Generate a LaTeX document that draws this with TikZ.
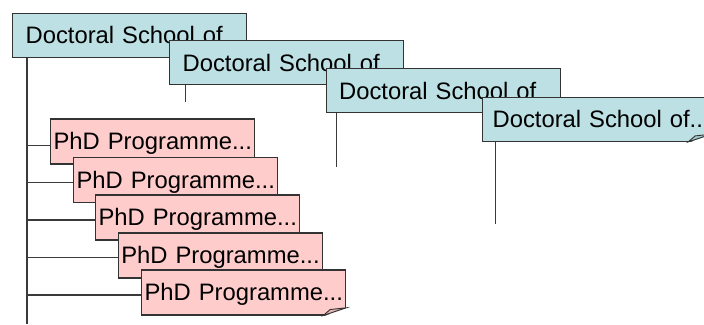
\documentclass[tikz,border=0pt]{standalone}
\usepackage{fontspec}
\setmainfont{Liberation Sans}
\usetikzlibrary{calc}
\definecolor{dscol}{HTML}{BCE0E3}
\definecolor{phcol}{HTML}{FFCCCC}
\definecolor{phdark}{HTML}{E6B3B3}
\definecolor{dsdark}{HTML}{A3C9CC}
\definecolor{bordercol}{HTML}{333333}
\definecolor{linecol}{HTML}{3A3A3A}
\begin{document}
\begin{tikzpicture}[x=1pt,y=-1pt,
  every node/.style={font=\fontsize{23.8}{28}\selectfont, text height=17, text depth=0, align=left, anchor=north west, inner ysep=0},
  dsbox/.style={draw=bordercol, fill=dscol, line width=1.2pt, minimum height=44, inner xsep=13, text width=208},
  phbox/.style={draw=bordercol, fill=phcol, line width=1.2pt, minimum height=45, inner xsep=3, text width=198},
  conn/.style={draw=linecol, line width=1.3pt},
  foldcut/.style={fill=white},
  foldedge/.style={draw=bordercol, line width=0.9pt}
]
\useasboundingbox (0,0) rectangle (704,324);
\clip (0,0) rectangle (704,324);
% Doctoral school boxes
\node[dsbox] (d1) at (12,12.7) {\mbox{Doctoral School of}};
\node[dsbox] (d2) at (169,40) {\mbox{Doctoral School of}};
\node[dsbox] (d3) at (325.5,68) {\mbox{Doctoral School of}};
\node[dsbox, inner xsep=10, text width=208] (d4) at (482,96.7) {\mbox{Doctoral School of..}};
% fold on d4
\fill[foldcut] ($(d4.south east)+(-23,1)$) -- ($(d4.south east)+(1,1)$) -- ($(d4.south east)+(1,-7.7)$) -- cycle;
\draw[foldedge, fill=dsdark] ($(d4.south east)+(-23,0)$) -- ($(d4.south east)+(-16,-6)$) -- ($(d4.south east)+(0,-7.7)$) -- cycle;
% PhD programme boxes
\node[phbox] (p1) at (50,118.3) {\mbox{PhD Programme...}};
\node[phbox] (p2) at (73,156.7) {\mbox{PhD Programme...}};
\node[phbox] (p3) at (95,194.3) {\mbox{PhD Programme...}};
\node[phbox] (p4) at (117.7,232.3) {\mbox{PhD Programme...}};
\node[phbox] (p5) at (141,269.3) {\mbox{PhD Programme...}};
% fold on p5
\fill[foldcut] ($(p5.south east)+(-23,1)$) -- ($(p5.south east)+(1,1)$) -- ($(p5.south east)+(1,-7.7)$) -- cycle;
\draw[foldedge, fill=phdark] ($(p5.south east)+(-23,0)$) -- ($(p5.south east)+(-16,-6)$) -- ($(p5.south east)+(0,-7.7)$) -- cycle;
% trunk lines
\coordinate (t1) at (27,324);
\coordinate (t2) at (185.7,102);
\coordinate (t3) at (336.7,166.7);
\coordinate (t4) at (495.7,224.3);
\draw[conn] (d1.south west -| t1) -- (t1);
\draw[conn] (d2.south west -| t2) -- (t2);
\draw[conn] (d3.south west -| t3) -- (t3);
\draw[conn] (d4.south west -| t4) -- (t4);
% branches to PhD programmes
\coordinate (h1) at (27,145.7);
\coordinate (h2) at (27,182.7);
\coordinate (h3) at (27,220);
\coordinate (h4) at (27,257.3);
\coordinate (h5) at (27,295);
\coordinate (h5b) at (118,295);
\draw[conn] (h1) -- (h1 -| p1.west);
\draw[conn] (h2) -- (h2 -| p2.west);
\draw[conn] (h3) -- (h3 -| p3.west);
\draw[conn] (h4) -- (h4 -| p4.west);
\draw[conn] (h5) -- (h5 -| p5.west);
\draw[conn, line width=2.2pt] (h5) -- (h5b);
\end{tikzpicture}
\end{document}
